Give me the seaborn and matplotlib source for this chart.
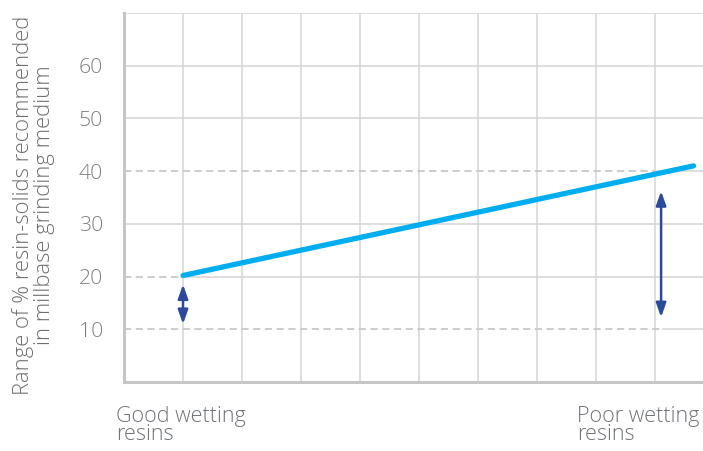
import numpy as np
import pandas as pd
import matplotlib
matplotlib.use("Agg")
import matplotlib.pyplot as plt
import seaborn as sns

# ---- data ----
line_x = [1.0, 9.65]
line_y = [20.2, 41.0]
grid_x = [1, 2, 3, 4, 5, 6, 7, 8, 9]
grid_y = [10, 20, 30, 40, 50, 60, 70]
tick_y = [10, 20, 30, 40, 50, 60]
dash_levels = [10, 20, 40]
dash_ends = [9.12, 1.0, 9.0]
arrow_x = [1.0, 9.1]
arrow_lo = [11.0, 12.3]
arrow_hi = [18.5, 36.2]
x_labels = ["Good wetting\nresins", "Poor wetting\nresins"]
y_label = "Range of % resin-solids recommended\nin millbase grinding medium"

sns.set_theme(style="white")
plt.rcParams['font.family'] = ['Open Sans', 'DejaVu Sans']

W, H = 703, 451
fig = plt.figure(figsize=(W / 100, H / 100), dpi=100)
L, R, T, B = 124, 703, 13, 382
ax = fig.add_axes([L / W, (H - B) / H, (R - L) / W, (B - T) / H])

xmax = 9.81
ax.set_xlim(0, xmax)
ax.set_ylim(0, 70)

gc = "#d4d4d4"
for gx in grid_x:
    ax.axvline(gx, color=gc, lw=1.1, zorder=1)
dash_map = dict(zip(dash_levels, dash_ends))
for gy in grid_y:
    start = dash_map.get(gy, 0)
    ax.hlines(gy, start, xmax, color=gc, lw=1.1, zorder=1)
    if gy in dash_map:
        ax.hlines(gy, 0, start, color="#c8c8c8", lw=1.3, linestyles=(0, (4, 2.5)), zorder=1)

df = pd.DataFrame({"x": line_x, "y": line_y})
sns.lineplot(data=df, x="x", y="y", ax=ax, color="#00AEEF", lw=3.8,
             solid_capstyle="round", zorder=3)

for xa, lo, hi in zip(arrow_x, arrow_lo, arrow_hi):
    ax.annotate("", xy=(xa, hi), xytext=(xa, lo),
                arrowprops=dict(arrowstyle="<|-|>,head_length=0.7,head_width=0.25",
                                color="#2B4A9C", lw=1.8, shrinkA=0, shrinkB=0),
                zorder=4)

for s in ["top", "right"]:
    ax.spines[s].set_visible(False)
for s in ["left", "bottom"]:
    ax.spines[s].set_color("#c6c6c6")
    ax.spines[s].set_linewidth(2.2)

ax.set_xticks([])
ax.set_yticks(tick_y)
ax.set_yticklabels([str(v) for v in tick_y], fontweight="light")
ax.tick_params(axis="y", length=0, pad=15, labelsize=15.3, labelcolor="#7f7f7f")
ax.set_xlabel("")
ax.set_ylabel("")

fig.text(33.5 / W, 1 - 205 / H, y_label, fontsize=15.8, color="#6e6e6e",
         rotation=90, ha="center", va="center", multialignment="center",
         linespacing=1.0, fontweight="light")

fig.text(116 / W, 1 - 406 / H, x_labels[0], fontsize=15.5, color="#6f7378",
         ha="left", va="top", linespacing=0.82, fontweight="light")
fig.text(577 / W, 1 - 406 / H, x_labels[1], fontsize=15.5, color="#6f7378",
         ha="left", va="top", linespacing=0.82, fontweight="light")

fig.savefig("out.png", dpi=100)
